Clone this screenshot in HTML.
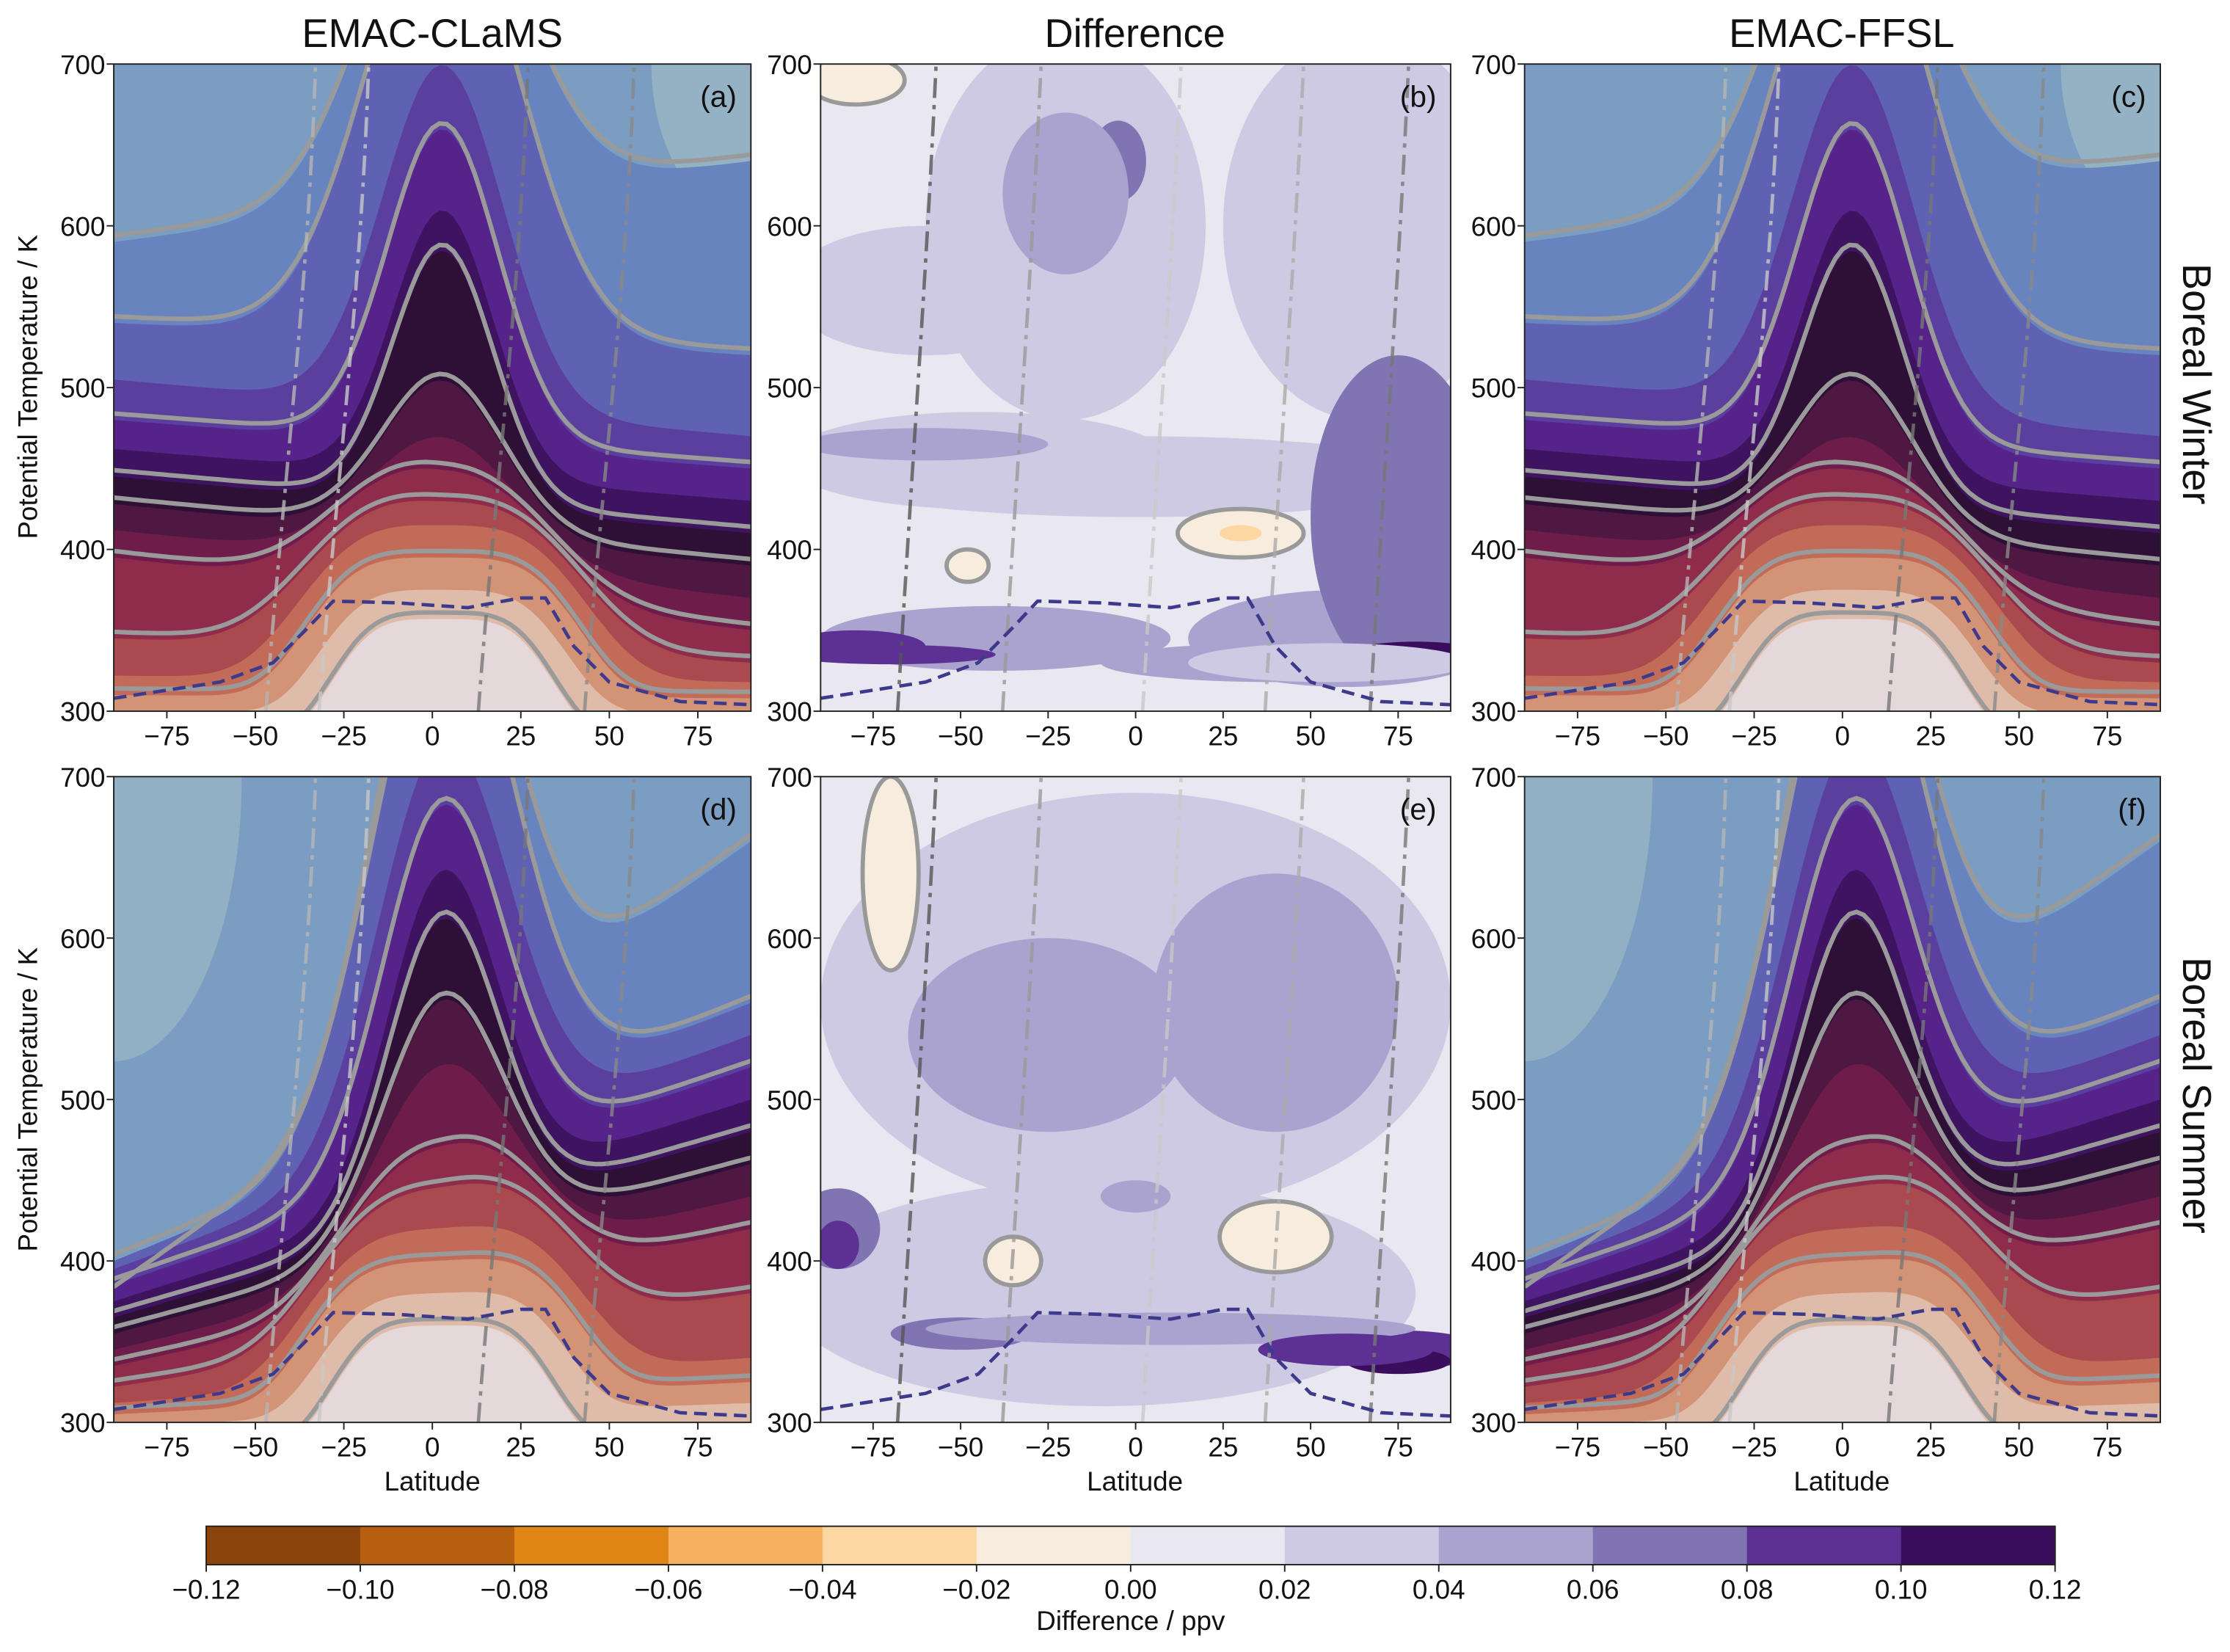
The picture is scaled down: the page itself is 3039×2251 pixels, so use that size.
<!DOCTYPE html>
<html><head><meta charset="utf-8">
<style>
html,body{margin:0;padding:0;background:#fff;}
svg{display:block;font-family:"Liberation Sans","DejaVu Sans",sans-serif;}
</style></head>
<body>
<svg id="fig" width="3039" height="2251" viewBox="0 0 1568 1161.4" xmlns="http://www.w3.org/2000/svg">
<defs>
<clipPath id="cpA"><rect x="80" y="45" width="448" height="455"/></clipPath>
<clipPath id="cpB"><rect x="577" y="45" width="443" height="455"/></clipPath>
<clipPath id="cpC"><rect x="1072" y="45" width="447" height="455"/></clipPath>
<clipPath id="cpD"><rect x="80" y="546" width="448" height="454"/></clipPath>
<clipPath id="cpE"><rect x="577" y="546" width="443" height="454"/></clipPath>
<clipPath id="cpF"><rect x="1072" y="546" width="447" height="454"/></clipPath>
</defs>
<g id="root"></g>
</svg>
<script>
// ---- data ----
const latTicks = [-75, -50, -25, 0, 25, 50, 75];
const thetaTicks = [300, 400, 500, 600, 700];
const bandColors = ["#7a9dc1","#6884bf","#5f62b2","#5b3f9f","#552389","#3e1461","#2e0f36","#4f1843","#6e1d4a","#8f2c4b","#ab4a4e","#c26b58","#d39377","#dfbcaa","#e4d8da"];
const winterSouth = [590,540,505,480,462,445,428,412,395,345,322,310,300,282];
const winterPeak  = [820,800,700,660,610,585,505,470,450,430,415,395,375,357];
const winterNorth = [640,520,470,450,430,410,390,370,350,330,318,308,298,280];
const winterWidth = [30,30,24,22,20,20,24,30,38,45,45,42,38,34];
const winterShape = [2,2,2,2,2,2,2,2,2.5,3,3.5,4,4,4];
const summerSouth = [380,400,395,385,375,365,355,345,335,322,312,305,298,282];
const summerPeak  = [830,800,720,680,640,610,560,520,470,445,420,400,380,360];
const summerNorth = [660,560,540,520,500,480,460,440,420,380,340,325,312,285];
const summerWidth = [26,28,26,24,22,22,24,28,35,42,44,42,38,34];
const summerShape = [2,2,2,2,2,2,2,2,2.5,3,3.5,4,4,4];
const cbValues = [-0.12,-0.10,-0.08,-0.06,-0.04,-0.02,0.00,0.02,0.04,0.06,0.08,0.10,0.12];
const cbColors = ["#8b430c","#b65f0f","#e08616","#f6b05e","#fdd7a2","#f8ecde","#e9e8f1","#cecae3","#aba3cf","#8174b2","#5c3193","#3b0e5d"];
// difference patches: lat, theta, half-width (deg), half-height (K), color index
const diffWinterLat  = [-60,-20,65,-45,0,-60,-40,60,75,-80,-70,40,30,30,-48,-80,80,-5,-20,55];
const diffWinterTh   = [560,600,600,455,445,465,345,345,420,340,335,330,410,410,390,690,335,640,620,330];
const diffWinterRx   = [40,40,40,55,90,35,50,45,25,20,30,50,18,6,6,14,20,8,18,40];
const diffWinterRy   = [40,120,120,30,25,10,20,30,100,10,6,12,15,5,10,15,8,25,50,12];
const diffWinterCol  = [7,7,7,7,7,8,8,8,9,10,10,8,5,4,5,5,11,9,8,7];
const diffSummerLat  = [0,-25,40,-10,-85,-85,-50,75,75,-70,-35,40,0,10,60];
const diffSummerTh   = [560,540,560,380,420,410,355,345,338,640,400,415,440,358,345];
const diffSummerRx   = [90,40,35,90,12,6,20,25,15,8,8,16,10,70,25];
const diffSummerRy   = [130,60,80,70,25,15,10,12,8,60,15,22,10,10,10];
const diffSummerCol  = [7,8,8,7,9,10,9,10,11,5,5,5,8,8,10];
const tropoLat = [-90,-60,-45,-35,-28,-10,10,25,32,40,50,70,90];
const tropoWin = [308,318,330,352,368,367,364,370,370,340,318,306,304];

// ---- helpers ----
const NS = "http://www.w3.org/2000/svg";
const root = document.getElementById("root");
function mk(tag, attrs, parent){ const e=document.createElementNS(NS,tag); for(const k in attrs) e.setAttribute(k,attrs[k]); (parent||root).appendChild(e); return e; }
const panels = [
 {id:"a",x:80,y:45,w:448,h:455,cp:"cpA",type:"w"},
 {id:"b",x:577,y:45,w:443,h:455,cp:"cpB",type:"dw"},
 {id:"c",x:1072,y:45,w:447,h:455,cp:"cpC",type:"w"},
 {id:"d",x:80,y:546,w:448,h:454,cp:"cpD",type:"s"},
 {id:"e",x:577,y:546,w:443,h:454,cp:"cpE",type:"ds"},
 {id:"f",x:1072,y:546,w:447,h:454,cp:"cpF",type:"s"}];
function xs(p,lat){ return p.x + (lat+90)/180*p.w; }
function ys(p,th){ return p.y + p.h - (th-300)/400*p.h; }
function levelTheta(S,P,N,W,E,lat){
  const base = S + (N-S)*(lat+90)/180;
  const baseEq = (S+N)/2;
  return base + (P-baseEq)*Math.exp(-Math.pow(Math.abs(lat-3)/W,E));
}
function levelPath(p,S,P,N,W,E,closed){
  let d="";
  for(let lat=-90;lat<=90;lat+=2){
    const X=xs(p,lat), Y=ys(p,levelTheta(S,P,N,W,E,lat));
    d += (lat===-90?"M":"L")+X.toFixed(1)+","+Y.toFixed(1);
  }
  if(closed) d += "L"+(p.x+p.w)+","+(p.y+p.h+5)+"L"+p.x+","+(p.y+p.h+5)+"Z";
  return d;
}

panels.forEach(p=>{
  const g = mk("g",{"clip-path":"url(#"+p.cp+")"});
  
  
  if(p.type==="w"||p.type==="s"){
    const S = p.type==="w"?winterSouth:summerSouth, P = p.type==="w"?winterPeak:summerPeak,
          N = p.type==="w"?winterNorth:summerNorth, W = p.type==="w"?winterWidth:summerWidth,
          E = p.type==="w"?winterShape:summerShape;
    mk("rect",{x:p.x,y:p.y,width:p.w,height:p.h,fill:bandColors[0]},g);
    const corner = p.type==="w" ? mk("ellipse",{cx:p.x+p.w,cy:p.y,rx:70,ry:110,fill:"#95b2c5"},g) : mk("ellipse",{cx:p.x,cy:p.y,rx:90,ry:200,fill:"#92b0c4"},g);
    
    
    for(let i=0;i<S.length;i++){
      const band = mk("path",{d:levelPath(p,S[i],P[i],N[i],W[i],E[i],true),fill:bandColors[i+1]},g);
      
      
    }
    [0,1,3,5,6,8,9,11,13].forEach(i=>{
      const ln = mk("path",{d:levelPath(p,S[i]+4,P[i]+4,N[i]+4,W[i],E[i],false),fill:"none",stroke:"#9a9a9a","stroke-width":3.2},g);
      
      
    });
    [-35,-20,25,55].forEach((lat,k)=>{
      const dd = mk("path",{d:`M${xs(p,lat-12)},${p.y+p.h} C${xs(p,lat-8)},${ys(p,420)} ${xs(p,lat)},${ys(p,560)} ${xs(p,lat+2)},${p.y}`,fill:"none",stroke:["#b5b5b5","#c8c8c8","#777","#888"][k],"stroke-width":2.4,"stroke-dasharray":"14 5 3 5",opacity:0.8},g);
      
      
    });
  } else {
    mk("rect",{x:p.x,y:p.y,width:p.w,height:p.h,fill:cbColors[6]},g);
    const L = p.type==="dw"?diffWinterLat:diffSummerLat, T = p.type==="dw"?diffWinterTh:diffSummerTh,
          RX = p.type==="dw"?diffWinterRx:diffSummerRx, RY = p.type==="dw"?diffWinterRy:diffSummerRy,
          C = p.type==="dw"?diffWinterCol:diffSummerCol;
    for(let i=0;i<L.length;i++){
      const e = mk("ellipse",{cx:xs(p,L[i]),cy:ys(p,T[i]),rx:RX[i]/180*p.w,ry:RY[i]/400*p.h,fill:cbColors[C[i]]},g);
      
      
      if(C[i]===5){ const o=mk("ellipse",{cx:xs(p,L[i]),cy:ys(p,T[i]),rx:RX[i]/180*p.w,ry:RY[i]/400*p.h,fill:"none",stroke:"#999","stroke-width":3},g);   }
    }
    [-60,-30,10,45,75].forEach((lat,k)=>{
      const dd = mk("path",{d:`M${xs(p,lat-8)},${p.y+p.h} C${xs(p,lat-4)},${ys(p,450)} ${xs(p,lat)},${ys(p,560)} ${xs(p,lat+3)},${p.y}`,fill:"none",stroke:["#555","#999","#c8c8c8","#aaa","#777"][k],"stroke-width":2.4,"stroke-dasharray":"14 5 3 5",opacity:0.8},g);
      
      
    });
  }
  let td="";
  tropoLat.forEach((lat,i)=>{ td += (i?"L":"M")+xs(p,lat).toFixed(1)+","+ys(p,tropoWin[i]).toFixed(1); });
  const tp = mk("path",{d:td,fill:"none",stroke:"#3d3a8c","stroke-width":2.4,"stroke-dasharray":"9 5"},g);
  
  
  const fr = mk("rect",{x:p.x,y:p.y,width:p.w,height:p.h,fill:"none",stroke:"#222","stroke-width":1});
  
  
  const lab = mk("text",{x:p.x+p.w-10,y:p.y+30,"text-anchor":"end","font-size":21,fill:"#111"});
  lab.textContent="("+p.id+")";
  
  
  latTicks.forEach(v=>{
    const X=xs(p,v);
    const t=mk("line",{x1:X,x2:X,y1:p.y+p.h,y2:p.y+p.h+5,stroke:"#222"});
     
    const tl=mk("text",{x:X,y:p.y+p.h+24,"text-anchor":"middle","font-size":19,fill:"#111"});
    tl.textContent=(v<0?"\u2212"+(-v):v);
     
  });
  thetaTicks.forEach(v=>{
    const Y=ys(p,v);
    const t=mk("line",{x1:p.x-5,x2:p.x,y1:Y,y2:Y,stroke:"#222"});
     
    const tl=mk("text",{x:p.x-6,y:Y+7,"text-anchor":"end","font-size":19,fill:"#111"});
    tl.textContent=v;
     
  });
});
[["EMAC-CLaMS",304],["Difference",798],["EMAC-FFSL",1295]].forEach(([t,x])=>{
  const e=mk("text",{x:x,y:33,"text-anchor":"middle","font-size":28,fill:"#111"}); e.textContent=t;
   
});
[["Boreal Winter",270],["Boreal Summer",770]].forEach(([t,y])=>{
  const e=mk("text",{x:1535,y:y,"text-anchor":"middle","font-size":28,fill:"#111",transform:`rotate(90 1535 ${y})`}); e.textContent=t;
   
});
[[272],[773]].forEach(([y])=>{
  const e=mk("text",{x:26,y:y,"text-anchor":"middle","font-size":19,fill:"#111",transform:`rotate(-90 26 ${y})`}); e.textContent="Potential Temperature / K";
   
});
[304,798,1295].forEach(x=>{
  const e=mk("text",{x:x,y:1048,"text-anchor":"middle","font-size":19,fill:"#111"}); e.textContent="Latitude";
   
});
const cbX=145, cbW=1300, cbY=1073, cbH=27;
function cbx(v){ return cbX + (v-cbValues[0])/(cbValues[cbValues.length-1]-cbValues[0])*cbW; }
cbColors.forEach((c,i)=>{
  const r=mk("rect",{x:cbx(cbValues[i]),y:cbY,width:cbx(cbValues[i+1])-cbx(cbValues[i])+0.5,height:cbH,fill:c});
   
});
const cbf=mk("rect",{x:cbX,y:cbY,width:cbW,height:cbH,fill:"none",stroke:"#222","stroke-width":1});
 
cbValues.forEach(v=>{
  const X=cbx(v);
  const t=mk("line",{x1:X,x2:X,y1:cbY+cbH,y2:cbY+cbH+5,stroke:"#222"});
   
  const tl=mk("text",{x:X,y:cbY+cbH+24,"text-anchor":"middle","font-size":19,fill:"#111"});
  tl.textContent=(v<0?"\u2212":"")+Math.abs(v).toFixed(2);
   
});
const cbt=mk("text",{x:795,y:1146,"text-anchor":"middle","font-size":19,fill:"#111"}); cbt.textContent="Difference / ppv";
 
</script>
</body></html>
